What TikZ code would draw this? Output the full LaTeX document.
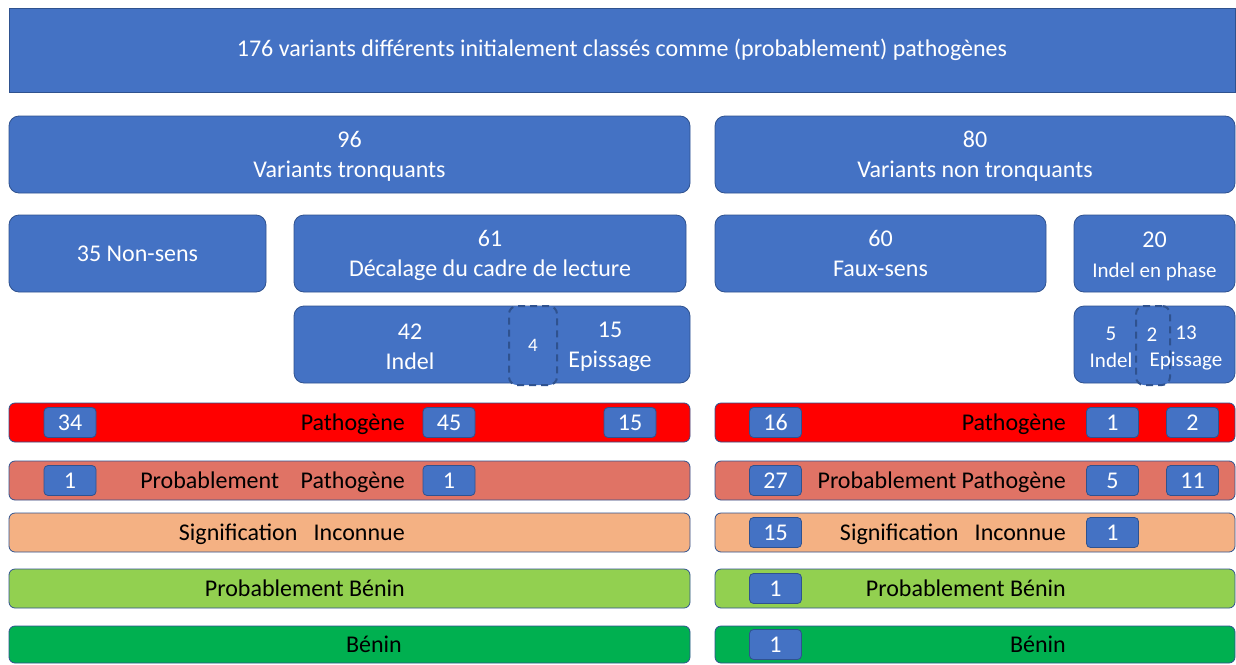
\documentclass[tikz,border=0pt]{standalone}
\usepackage{fontspec}
\setmainfont{Carlito}
\definecolor{boxblue}{HTML}{4472C4}
\definecolor{boxline}{HTML}{2F528F}
\definecolor{patho}{HTML}{FF0000}
\definecolor{probpatho}{HTML}{E07365}
\definecolor{inconnu}{HTML}{F4B183}
\definecolor{probbenin}{HTML}{92D050}
\definecolor{benin}{HTML}{00B050}
\tikzstyle{bluebox} = [draw=boxline, fill=boxblue, text=white, line width=0.8pt, rounded corners=10pt, inner sep=0pt, align=center, font=\fontsize{24}{30}\selectfont]
\tikzstyle{bartext} = [anchor=base east, inner sep=0pt, text=black, font=\fontsize{24}{28}\selectfont]
\tikzstyle{bar} = [draw=boxline, line width=0.8pt, rounded corners=6pt, minimum height=39pt, inner sep=0pt]
\tikzstyle{badge} = [draw=boxline, fill=boxblue, text=white, line width=0.8pt, rounded corners=4pt, minimum width=52pt, minimum height=30pt, inner sep=0pt, font=\fontsize{24}{28}\selectfont]
\tikzstyle{overlap} = [draw=boxline, fill=boxblue, text=white, line width=2pt, dash pattern=on 7pt off 5pt, rounded corners=8pt, inner sep=0pt]
\tikzstyle{plain} = [text=white, inner sep=0pt, align=center, font=\fontsize{24}{30}\selectfont]

\begin{document}
\begin{tikzpicture}[x=1pt,y=-1pt]
\useasboundingbox (0,0) rectangle (1236,664);

\node[bluebox, rounded corners=0pt, minimum width=1226pt, minimum height=84pt] (total) at (622,50) {176 variants différents initialement classés comme (probablement) pathogènes};

\node[bluebox, minimum width=681pt, minimum height=77pt] (tronq) at (349.5,154.5) {\rule{0pt}{20pt}96\\Variants tronquants};
\node[bluebox, minimum width=520pt, minimum height=77pt] (nontronq) at (975,154.5) {\rule{0pt}{20pt}80\\Variants non tronquants};

\node[bluebox, minimum width=257pt, minimum height=77pt] (nonsens) at (137.5,253.5) {35 Non-sens};
\node[bluebox, minimum width=392pt, minimum height=77pt] (decal) at (490,253.5) {\rule{0pt}{20pt}61\\Décalage du cadre de lecture};
\node[bluebox, minimum width=331pt, minimum height=77pt] (fauxsens) at (880.5,253.5) {60\\Faux-sens};
\node[bluebox, minimum width=161pt, minimum height=77pt] (phase) at (1154.5,253.5) {\rule{0pt}{22pt}20\\{\fontsize{21}{28}\selectfont Indel en phase}};

% decalage: indel / epissage
\node[bluebox, minimum width=396pt, minimum height=77pt] (decalsplit) at (492,344.5) {};
\node[overlap, minimum width=48pt, minimum height=79pt] (overlapA) at (533,345.5) {\fontsize{19}{24}\selectfont 4};
\node[plain] (indelA) at (410,347) {42\\Indel};
\node[plain] (episA) at (610,347) {15\\Epissage};

% indel en phase: indel / epissage
\node[bluebox, minimum width=161pt, minimum height=77pt] (phasesplit) at (1154.5,344.5) {};
\node[overlap, minimum width=34pt, minimum height=79pt] (overlapB) at (1153,345.5) {};
\node[plain, font=\fontsize{21}{27}\selectfont] (indelB) at (1111,347.5) {5\\Indel};
\node[plain, font=\fontsize{21}{24}\selectfont] (twoB) at (1152,334.5) {2};
\node[plain, font=\fontsize{21}{27}\selectfont] (episB) at (1186,347.5) {13\\Epissage};

% classes
\node[bar, fill=patho, minimum width=681pt] (pathoL) at (349.5,422.5) {};
\node[bar, fill=patho, minimum width=520pt] (pathoR) at (975,422.5) {};
\node[bar, fill=probpatho, minimum width=681pt] (probpathoL) at (349.5,480.5) {};
\node[bar, fill=probpatho, minimum width=520pt] (probpathoR) at (975,480.5) {};
\node[bar, fill=inconnu, minimum width=681pt] (inconnuL) at (349.5,532.5) {};
\node[bar, fill=inconnu, minimum width=520pt] (inconnuR) at (975,532.5) {};
\node[bar, fill=probbenin, minimum width=681pt] (probbeninL) at (349.5,588.5) {};
\node[bar, fill=probbenin, minimum width=520pt] (probbeninR) at (975,588.5) {};
\node[bar, fill=benin, minimum width=681pt, minimum height=37pt] (beninL) at (349.5,644.5) {};
\node[bar, fill=benin, minimum width=520pt, minimum height=37pt] (beninR) at (975,644.5) {};

\node[bartext] (pathoLt) at (405,430) {Pathogène};
\node[bartext] (pathoRt) at (1066,430) {Pathogène};
\node[bartext] (probpathoLt) at (405,488) {Probablement\ \ \ \ Pathogène};
\node[bartext] (probpathoRt) at (1066,488) {Probablement Pathogène};
\node[bartext] (inconnuLt) at (405,540) {Signification\ \ \ Inconnue};
\node[bartext] (inconnuRt) at (1066,540) {Signification\ \ \ Inconnue};
\node[bartext] (probbeninLt) at (405,596) {Probablement Bénin};
\node[bartext] (probbeninRt) at (1066,596) {Probablement Bénin};
\node[bartext] (beninLt) at (402,652) {Bénin};
\node[bartext] (beninRt) at (1066,652) {Bénin};

% counts
\node[badge] (pA) at (70,422.5) {34};
\node[badge] (pB) at (449,422.5) {45};
\node[badge] (pC) at (630,422.5) {15};
\node[badge] (pD) at (775.5,422.5) {16};
\node[badge] (pE) at (1112.5,422.5) {1};
\node[badge] (pF) at (1192.5,422.5) {2};
\node[badge] (ppA) at (70,480.5) {1};
\node[badge] (ppB) at (449,480.5) {1};
\node[badge] (ppD) at (775.5,480.5) {27};
\node[badge] (ppE) at (1112.5,480.5) {5};
\node[badge] (ppF) at (1192.5,480.5) {11};
\node[badge] (siD) at (775.5,532.5) {15};
\node[badge] (siE) at (1112.5,532.5) {1};
\node[badge] (pbD) at (775.5,588.5) {1};
\node[badge] (bD) at (775.5,644.5) {1};
\end{tikzpicture}
\end{document}
